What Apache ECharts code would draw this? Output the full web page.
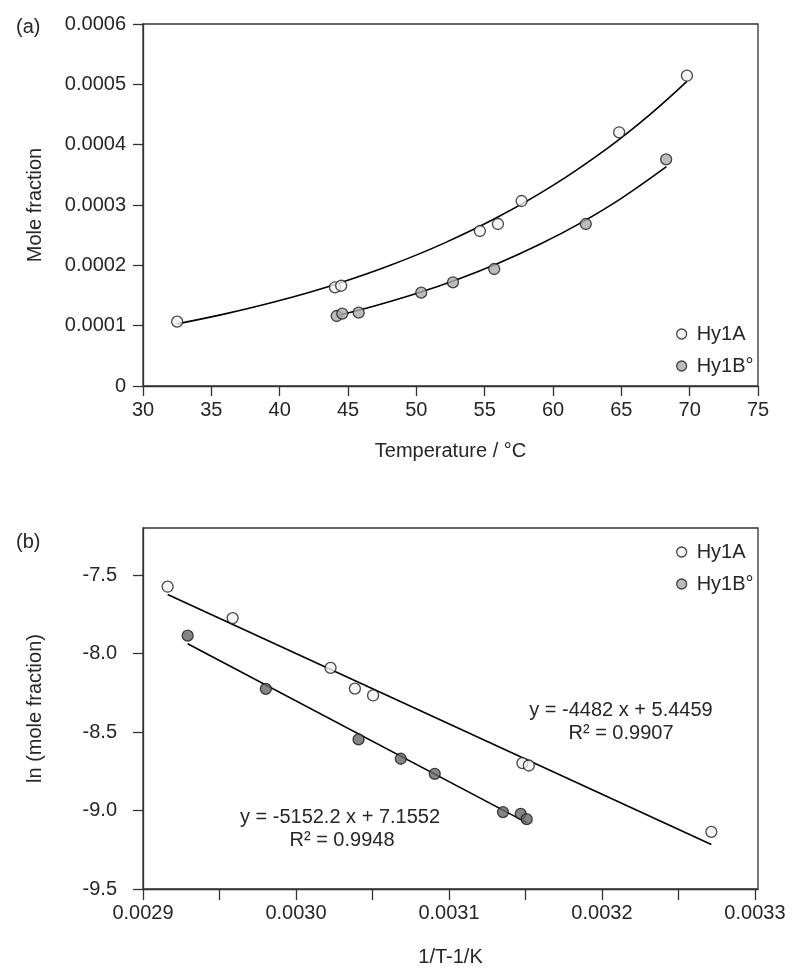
<!DOCTYPE html>
<html>
<head>
<meta charset="utf-8">
<script src="https://cdn.jsdelivr.net/npm/echarts@6/dist/echarts.min.js"></script>
<style>
html,body{margin:0;padding:0;background:#fff;}
#chart{width:800px;height:977px;}
</style>
</head>
<body>
<div id="chart"></div>
<script>
// ---- Panel (a): mole fraction vs temperature ----
const tempA = [32.5, 44.05, 44.5, 54.65, 55.97, 57.7, 64.84, 69.8];
const moleA = [1.066e-4, 1.636e-4, 1.662e-4, 2.569e-4, 2.685e-4, 3.066e-4, 4.205e-4, 5.143e-4];
const tempB = [44.17, 44.58, 45.78, 50.36, 52.68, 55.7, 62.4, 68.28];
const moleB = [1.160e-4, 1.199e-4, 1.216e-4, 1.547e-4, 1.718e-4, 1.939e-4, 2.685e-4, 3.757e-4];
// fitted curves
const fitTempA = [32.5, 36, 40, 44, 48, 52, 56, 60, 64, 67, 69.8];
const fitMoleA = [1.03e-4, 1.195e-4, 1.417e-4, 1.680e-4, 1.993e-4, 2.364e-4, 2.804e-4, 3.325e-4, 3.944e-4, 4.482e-4, 5.05e-4];
const fitTempB = [44.2, 47, 50, 53, 56, 59, 62, 65, 68.3];
const fitMoleB = [1.166e-4, 1.331e-4, 1.533e-4, 1.766e-4, 2.035e-4, 2.344e-4, 2.700e-4, 3.111e-4, 3.635e-4];
const tempTicks = [30, 35, 40, 45, 50, 55, 60, 65, 70, 75];
const moleTicks = [0, 0.0001, 0.0002, 0.0003, 0.0004, 0.0005, 0.0006];

// ---- Panel (b): ln(mole fraction) vs 1/T ----
const invTA = [0.0029161, 0.0029586, 0.0030226, 0.0030385, 0.0030504, 0.0031480, 0.0031522, 0.0032715];
const lnA = [-7.574, -7.774, -8.091, -8.223, -8.267, -8.698, -8.713, -9.136];
const invTB = [0.0029292, 0.0029803, 0.0030409, 0.0030685, 0.0030907, 0.0031353, 0.0031469, 0.0031508];
const lnB = [-7.886, -8.225, -8.547, -8.670, -8.766, -9.010, -9.021, -9.055];
const lineAX = [0.0029161, 0.0032715];
const lineAY = [-7.624, -9.217];
const lineBX = [0.0029292, 0.0031508];
const lineBY = [-7.937, -9.077];
const invTTicks = [0.0029, 0.00295, 0.0030, 0.00305, 0.0031, 0.00315, 0.0032, 0.00325, 0.0033];
const invTLabels = [0.0029, 0.0030, 0.0031, 0.0032, 0.0033];
const lnTicks = [-9.5, -9.0, -8.5, -8.0, -7.5];

const names = ['Hy1A', 'Hy1B\u00B0'];
const eqA = ['y = -4482 x + 5.4459', 'R\u00B2 = 0.9907'];
const eqB = ['y = -5152.2 x + 7.1552', 'R\u00B2 = 0.9948'];

const zip = (a, b) => a.map((v, i) => [v, b[i]]);

const FONT = 'Liberation Sans, Arial, sans-serif';
const TXT = '#262626';
const AX = '#333';

function axisCommon() {
  return {
    axisLine: { show: true, onZero: false, lineStyle: { color: AX, width: 1.3 } },
    axisTick: { show: true, inside: false, length: 10, lineStyle: { color: AX, width: 1.3 } },
    splitLine: { show: false },
    nameTextStyle: { fontFamily: FONT, fontSize: 20, color: TXT },
  };
}

const chart = echarts.init(document.getElementById('chart'), null, { renderer: 'canvas' });

const markerA = { color: '#f2f2f2', borderColor: '#1a1a1a', borderWidth: 1.3 };
const markerB1 = { color: '#ababab', borderColor: '#1a1a1a', borderWidth: 1.3 };
const markerB2 = { color: '#666666', borderColor: '#1a1a1a', borderWidth: 1.3 };
const fitLine = { color: '#000', width: 1.6 };

const option = {
  animation: false,
  backgroundColor: '#fff',
  textStyle: { fontFamily: FONT },
  title: [
    { text: '(a)', left: 11, top: 12, textStyle: { fontFamily: FONT, fontSize: 20, fontWeight: 'normal', color: TXT } },
    { text: '(b)', left: 11, top: 527, textStyle: { fontFamily: FONT, fontSize: 20, fontWeight: 'normal', color: TXT } }
  ],
  grid: [
    { left: 143, top: 24, width: 615, height: 362, show: true, borderColor: AX, borderWidth: 1.3, backgroundColor: 'transparent' },
    { left: 143, top: 528, width: 615, height: 361, show: true, borderColor: AX, borderWidth: 1.3, backgroundColor: 'transparent' }
  ],
  legend: [
    {
      data: [
        { name: names[0], icon: 'circle', itemStyle: markerA },
        { name: names[1], icon: 'circle', itemStyle: markerB1 }
      ],
      orient: 'vertical', left: 671, top: 319, itemWidth: 10, itemHeight: 10, itemGap: 12,
      textStyle: { fontFamily: FONT, fontSize: 20, color: TXT, padding: [0, 0, 0, 5] },
      selectedMode: false
    },
    {
      data: [
        { name: names[0], icon: 'circle', itemStyle: markerA },
        { name: names[1], icon: 'circle', itemStyle: markerB1 }
      ],
      orient: 'vertical', left: 671, top: 537, itemWidth: 10, itemHeight: 10, itemGap: 12,
      textStyle: { fontFamily: FONT, fontSize: 20, color: TXT, padding: [0, 0, 0, 5] },
      selectedMode: false
    }
  ],
  xAxis: [
    Object.assign(axisCommon(), {
      type: 'value', gridIndex: 0, min: tempTicks[0], max: tempTicks[tempTicks.length - 1], interval: 5,
      name: 'Temperature / \u00B0C', nameLocation: 'middle', nameGap: 55,
      axisLabel: { fontFamily: FONT, fontSize: 20, color: TXT, margin: 14, formatter: v => String(v) }
    }),
    Object.assign(axisCommon(), {
      type: 'value', gridIndex: 1, min: invTTicks[0], max: 0.003302,
      name: '1/T-1/K', nameLocation: 'middle', nameGap: 58,
      axisTick: { show: true, length: 11, customValues: invTTicks, lineStyle: { color: AX, width: 1.3 } },
      axisLabel: { fontFamily: FONT, fontSize: 20, color: TXT, margin: 14, customValues: invTLabels, formatter: v => v.toFixed(4) }
    })
  ],
  yAxis: [
    Object.assign(axisCommon(), {
      type: 'value', gridIndex: 0, min: moleTicks[0], max: moleTicks[moleTicks.length - 1], interval: 0.0001,
      name: 'Mole fraction', nameLocation: 'middle', nameGap: 98,
      axisLabel: { fontFamily: FONT, fontSize: 20, color: TXT, margin: 17, formatter: v => (v === 0 ? '0' : v.toFixed(4)) }
    }),
    Object.assign(axisCommon(), {
      type: 'value', gridIndex: 1, min: lnTicks[0], max: -7.2,
      name: 'ln (mole fraction)', nameLocation: 'middle', nameGap: 98,
      axisTick: { show: true, length: 10, customValues: lnTicks, lineStyle: { color: AX, width: 1.3 } },
      axisLabel: { fontFamily: FONT, fontSize: 20, color: TXT, margin: 26, customValues: lnTicks, formatter: v => v.toFixed(1) }
    })
  ],
  series: [
    { name: 'fitA', type: 'line', xAxisIndex: 0, yAxisIndex: 0, data: zip(fitTempA, fitMoleA), smooth: 0.4, showSymbol: false, lineStyle: fitLine, z: 2, silent: true },
    { name: 'fitB', type: 'line', xAxisIndex: 0, yAxisIndex: 0, data: zip(fitTempB, fitMoleB), smooth: 0.4, showSymbol: false, lineStyle: fitLine, z: 2, silent: true },
    { name: names[0], type: 'scatter', xAxisIndex: 0, yAxisIndex: 0, data: zip(tempA, moleA), symbol: 'circle', symbolSize: 11, itemStyle: markerA, z: 5 },
    { name: names[1], type: 'scatter', xAxisIndex: 0, yAxisIndex: 0, data: zip(tempB, moleB), symbol: 'circle', symbolSize: 11, itemStyle: markerB1, z: 5 },

    { name: 'lineA', type: 'line', xAxisIndex: 1, yAxisIndex: 1, data: zip(lineAX, lineAY), showSymbol: false, lineStyle: fitLine, z: 2, silent: true },
    { name: 'lineB', type: 'line', xAxisIndex: 1, yAxisIndex: 1, data: zip(lineBX, lineBY), showSymbol: false, lineStyle: fitLine, z: 2, silent: true },
    { name: names[0], type: 'scatter', xAxisIndex: 1, yAxisIndex: 1, data: zip(invTA, lnA), symbol: 'circle', symbolSize: 11, itemStyle: markerA, z: 5 },
    { name: names[1], type: 'scatter', xAxisIndex: 1, yAxisIndex: 1, data: zip(invTB, lnB), symbol: 'circle', symbolSize: 11, itemStyle: markerB2, z: 5 }
  ],
  graphic: [
    { type: 'text', x: 621, y: 710, style: { text: eqA[0], font: '20px ' + FONT, fill: TXT, align: 'center', verticalAlign: 'middle' } },
    { type: 'text', x: 621, y: 733, style: { text: eqA[1], font: '20px ' + FONT, fill: TXT, align: 'center', verticalAlign: 'middle' } },
    { type: 'text', x: 340, y: 817, style: { text: eqB[0], font: '20px ' + FONT, fill: TXT, align: 'center', verticalAlign: 'middle' } },
    { type: 'text', x: 342, y: 840, style: { text: eqB[1], font: '20px ' + FONT, fill: TXT, align: 'center', verticalAlign: 'middle' } }
  ]
};

chart.setOption(option);
</script>
</body>
</html>
